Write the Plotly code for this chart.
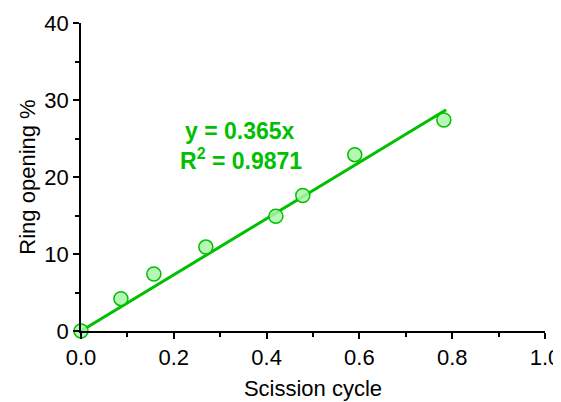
import plotly.graph_objects as go

scission_cycle = [0.0, 0.086, 0.157, 0.269, 0.42, 0.478, 0.59, 0.782]
ring_opening = [0.0, 4.2, 7.4, 10.9, 14.9, 17.6, 22.9, 27.4]
slope = 0.365
r2 = 0.9871
fit_x = [0.0, 0.787]
fit_y = [slope * 100 * x for x in fit_x]

green = "#00c000"
FONT = "Liberation Sans"
fig = go.Figure()
fig.add_trace(go.Scatter(x=fit_x, y=fit_y, mode="lines",
                         line=dict(color=green, width=3), cliponaxis=False, showlegend=False))
fig.add_trace(go.Scatter(x=scission_cycle, y=ring_opening, mode="markers",
                         marker=dict(size=14, color="rgba(170,245,170,0.85)",
                                     line=dict(color=green, width=1.5)),
                         cliponaxis=False, showlegend=False))

fig.add_annotation(x=0.343, y=26.0, xref="x", yref="y", text=f"<b>y = {slope}x</b>",
                   showarrow=False, font=dict(family=FONT, size=23, color=green))
fig.add_annotation(x=0.345, y=22.4, xref="x", yref="y", text=f"<b>R<sup>2</sup> = {r2}</b>",
                   showarrow=False, font=dict(family=FONT, size=23, color=green))

axis_common = dict(showline=True, linecolor="black", linewidth=1.5, ticks="outside",
                   tickcolor="black", ticklen=6, tickwidth=1.5, showgrid=False, zeroline=False,
                   tickfont=dict(family=FONT, size=22, color="black"),
                   title_font=dict(family=FONT, size=22, color="black"))
fig.update_xaxes(range=[0, 1], tickvals=[0, 0.2, 0.4, 0.6, 0.8, 1.0],
                 ticktext=["0.0", "0.2", "0.4", "0.6", "0.8", "1.0"],
                 minor=dict(tickvals=[0.1, 0.3, 0.5, 0.7, 0.9], ticklen=4, tickwidth=1.5,
                            tickcolor="black", ticks="outside"),
                 title=dict(text="Scission cycle", standoff=11), **axis_common)
fig.update_yaxes(range=[0, 40], tickvals=[0, 10, 20, 30, 40],
                 minor=dict(tickvals=[5, 15, 25, 35], ticklen=4, tickwidth=1.5,
                            tickcolor="black", ticks="outside"),
                 title=dict(text="Ring opening %", standoff=3), **axis_common)
fig.update_layout(width=553, height=394, margin=dict(l=73, r=16, t=15, b=71, autoexpand=False),
                  plot_bgcolor="white", paper_bgcolor="white")
fig.write_html("out.html")
